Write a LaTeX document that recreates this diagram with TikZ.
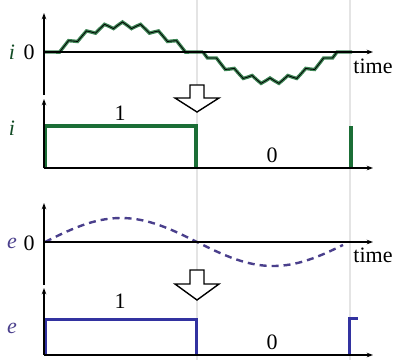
\documentclass[tikz,border=0pt]{standalone}
\usepackage{fontspec}
\setmainfont{Liberation Serif}
\usepackage{xcolor}
\definecolor{swgreen}{HTML}{1B6E36}
\definecolor{swblue}{HTML}{3232A0}
\definecolor{swdash}{HTML}{4A3F8C}
\definecolor{swgrey}{HTML}{E4E4E4}
\usetikzlibrary{arrows.meta,calc}
\tikzset{
  swaxis/.style={-{Stealth[length=2.2mm,width=1.6mm]},line width=1.3pt},
  swgrid/.style={swgrey,line width=1.6pt},
  swpulsei/.style={swgreen,line width=3.2pt,line join=miter},
  swpulsee/.style={swblue,line width=3pt,line join=miter},
  swwave/.style={swdash,line width=2.4pt,dash pattern=on 7pt off 5pt},
  swtext/.style={font=\fontsize{22}{24}\selectfont,inner sep=1pt},
  swdown/.style={line width=1.4pt,fill=white,line join=miter},
}

\begin{document}
\begin{tikzpicture}[x=1pt,y=-1pt]
\useasboundingbox (0,0) rectangle (394,360);
% switching instants
\draw[swgrid] (197,0) -- (197,360);
\draw[swgrid] (350,0) -- (350,360);

% current, measured
\coordinate (io) at (44,52);
\coordinate (it) at (44,13);
\coordinate (ib) at (44,95);
\coordinate (ie) at (373,52);
\draw[swgreen,line width=3.4pt,opacity=.85] (io) -- (55,52)
  plot[domain=55:190,samples=31] (\x,{52-27*sin((\x-55)/135*180)+3*sin((\x-55)/9*180)})
  -- (203,52)
  plot[domain=203:337,samples=31] (\x,{52+29*sin((\x-203)/134*180)+3*sin((\x-203)/8.9333*180)})
  -- (352,52);
\draw[line width=.8pt] (io) -- (55,52)
  plot[domain=55:190,samples=31] (\x,{52-27*sin((\x-55)/135*180)+3*sin((\x-55)/9*180)})
  -- (203,52)
  plot[domain=203:337,samples=31] (\x,{52+29*sin((\x-203)/134*180)+3*sin((\x-203)/8.9333*180)})
  -- (352,52);
\draw[swaxis] (ib) -- (it);
\draw[swaxis] (io) -- (ie);
\node[swtext,text=swgreen!70!black] (ilab) at (12,52) {\textit{i}};
\node[swtext] (izero) at (29,52) {0};
\node[swtext] (itime) at (373,66) {time};

\draw[swdown] (190,85) -- (204,85) -- (204,98) -- (219,98) -- (197,112)
  -- (175,98) -- (190,98) -- cycle;

% current, switched
\coordinate (so) at (44,168);
\coordinate (st) at (44,99);
\coordinate (se) at (373,168);
\draw[swpulsei] (45,168) -- (45,126) -- (196,126) -- (196,168);
\draw[swpulsei] (351,168) -- (351,126);
\draw[swaxis] (so) -- (st);
\draw[swaxis] (so) -- (se);
\node[swtext,text=swgreen!70!black] (slab) at (12,128) {\textit{i}};
\node[swtext] (sone) at (120,113) {1};
\node[swtext] (szero) at (272,155) {0};

% voltage, measured
\coordinate (eo) at (44,242);
\coordinate (et) at (44,203);
\coordinate (eb) at (44,285);
\coordinate (ee) at (373,242);
\draw[swwave] plot[domain=45:343,samples=80] (\x,{242-24*sin((\x-45)/152*180)});
\draw[swaxis] (eb) -- (et);
\draw[swaxis] (eo) -- (ee);
\node[swtext,text=swdash] (elab) at (12,243) {\textit{e}};
\node[swtext] (ezero) at (29,243) {0};
\node[swtext] (etime) at (373,255) {time};

\draw[swdown] (190,270) -- (204,270) -- (204,284) -- (219,284) -- (197,300)
  -- (175,284) -- (190,284) -- cycle;

% voltage, switched
\coordinate (vo) at (44,355);
\coordinate (vt) at (44,288);
\coordinate (ve) at (373,355);
\draw[swpulsee] (45,355) -- (45,319) -- (196,319) -- (196,355);
\draw[swpulsee] (349,355) -- (349,318) -- (358,318);
\draw[swaxis] (vo) -- (vt);
\draw[swaxis] (vo) -- (ve);
\node[swtext,text=swdash] (vlab) at (12,328) {\textit{e}};
\node[swtext] (vone) at (120,301) {1};
\node[swtext] (vzero) at (272,342) {0};
\end{tikzpicture}
\end{document}
